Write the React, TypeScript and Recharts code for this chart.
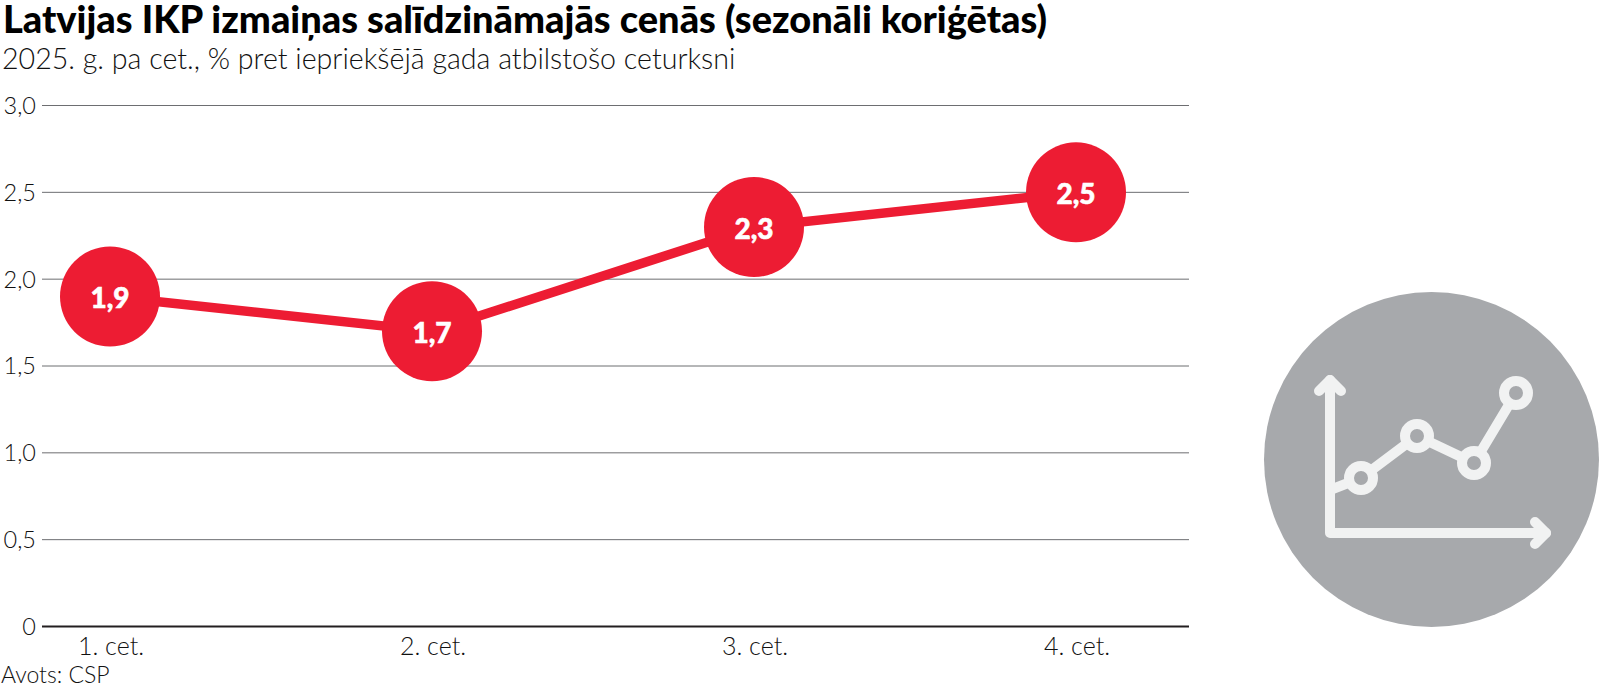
import React from "react";
import { LineChart, Line, XAxis, YAxis, CartesianGrid, ReferenceLine, LabelList } from "recharts";

const categories = ["1. cet.", "2. cet.", "3. cet.", "4. cet."];
const gdpValues = [1.9, 1.7, 2.3, 2.5];
const yTicks = [0, 0.5, 1, 1.5, 2, 2.5, 3];
const titleText = "Latvijas IKP izmaiņas salīdzināmajās cenās (sezonāli koriģētas)";
const subtitleText = "2025. g. pa cet., % pret iepriekšējā gada atbilstošo ceturksni";
const sourceText = "Avots: CSP";

const rows = categories.map((c, i) => ({ cat: c, value: gdpValues[i] }));
const RED = "#ed1c33";
const FONT = "Lato, sans-serif";
const fmt = (v: number) => (v === 0 ? "0" : v.toFixed(1).replace(".", ","));

const Dot = (p: any) => <circle cx={p.cx} cy={p.cy} r={50} fill={RED} />;

function Icon() {
  const c = "#f1f2f2";
  const bg = "#a7a9ac";
  const pts = [[1361, 478], [1417, 436], [1474, 463], [1516, 393]];
  return (
    <svg width={1600} height={688} style={{ position: "absolute", left: 0, top: 0, pointerEvents: "none" }}>
      <circle cx={1431.5} cy={459.5} r={167.5} fill={bg} />
      <g fill="none" stroke={c} strokeWidth={10} strokeLinecap="round" strokeLinejoin="round">
        <polyline points="1330,380 1330,533 1546,533" />
        <polyline points="1319,391 1330,380 1341,391" />
        <polyline points="1535,522 1546,533 1535,544" />
        <polyline points={"1330,490 " + pts.map((q) => q.join(",")).join(" ")} />
      </g>
      {pts.map((q, i) => (
        <circle key={i} cx={q[0]} cy={q[1]} r={12} fill={bg} stroke={c} strokeWidth={10} />
      ))}
    </svg>
  );
}

export default function App() {
  return (
    <div style={{ position: "absolute", left: 0, top: 0, width: 1600, height: 688, background: "#fff", overflow: "hidden", fontFamily: FONT }}>
      <div style={{ position: "absolute", left: 3, top: 0, fontSize: 38, fontWeight: 900, color: "#000", whiteSpace: "nowrap", lineHeight: "36px" }}>{titleText}</div>
      <div style={{ position: "absolute", left: 2, top: 43, fontSize: 28.6, fontWeight: 300, color: "#111", whiteSpace: "nowrap", lineHeight: "30px" }}>{subtitleText}</div>
      <div style={{ position: "absolute", left: 1, top: 660, fontSize: 23, fontWeight: 300, color: "#111", whiteSpace: "nowrap", lineHeight: "28px" }}>{sourceText}</div>
      <Icon />
      <div style={{ position: "absolute", left: 0, top: 0 }}>
        <LineChart width={1200} height={688} data={rows} margin={{ top: 105.5, right: 11, bottom: 27.5, left: 0 }}>
          <CartesianGrid vertical={false} horizontalValues={yTicks} stroke="#6d6e71" strokeWidth={1} />
          <XAxis dataKey="cat" scale="point" padding={{ left: 68, right: 113 }} axisLine={false} tickLine={false} height={34} interval={0}
            tick={{ fontSize: 25, fontWeight: 300, fill: "#111", fontFamily: FONT, dx: 1, dy: -1 }} tickMargin={6} />
          <YAxis width={42} domain={[0, 3]} ticks={yTicks} tickFormatter={fmt} axisLine={false} tickLine={false} interval={0}
            tick={{ fontSize: 23.5, fontWeight: 300, fill: "#111", fontFamily: FONT }} tickMargin={0} />
          <ReferenceLine y={0} stroke="#231f20" strokeWidth={2} />
          <Line dataKey="value" stroke={RED} strokeWidth={9.5} dot={<Dot />} activeDot={false} isAnimationActive={false}>
            <LabelList dataKey="value" position="center" formatter={(v: any) => fmt(Number(v))} fill="#fff" stroke="#fff" strokeWidth={0.6} dy={2} fontSize={28} fontWeight={900} fontFamily={FONT} />
          </Line>
        </LineChart>
      </div>
    </div>
  );
}
